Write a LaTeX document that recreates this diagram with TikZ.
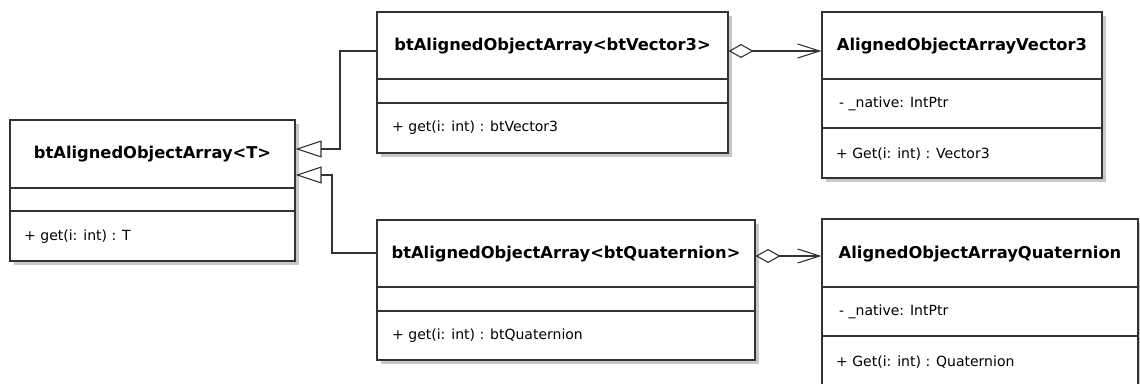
\documentclass[tikz,border=0pt]{standalone}
\usepackage{fontspec}
\setmainfont{DejaVu Sans}
\usetikzlibrary{arrows.meta}
\usetikzlibrary{shadows}
\tikzset{classbox/.style={draw=black!80, line width=1.1pt, fill=white, inner sep=0pt,
      drop shadow={shadow xshift=4pt, shadow yshift=-4pt, fill=black, opacity=0.22}}}
\tikzset{classname/.style={font=\fontsize{16.3}{18}\selectfont\bfseries, inner sep=0pt}}
\tikzset{member/.style={font=\fontsize{14}{16}\selectfont, anchor=west, inner sep=0pt}}
\tikzset{divider/.style={draw=black!80, line width=1.1pt}}
\tikzset{inherits/.style={draw=black!80, line width=1.1pt,
      -{Triangle[open, length=26pt, width=17pt]}}}
\tikzset{aggregates/.style={draw=black!80, line width=1.1pt,
      {Diamond[open, length=25pt, width=14pt]}-{Straight Barb[length=22pt, width=14pt]}}}

\begin{document}
\begin{tikzpicture}[x=1pt, y=-1pt]
		\clip (0,0) rectangle (1140,383);
		\node[classbox, minimum width=285pt, minimum height=141pt] (base) at (152.5,190.5) {};
		\node[classbox, minimum width=351pt, minimum height=141pt] (vec) at (552.5,82.5) {};
		\node[classbox, minimum width=378pt, minimum height=140pt] (quat) at (566,290) {};
		\node[classbox, minimum width=280pt, minimum height=166pt] (avec) at (962,95) {};
		\node[classbox, minimum width=316pt, minimum height=167pt] (aquat) at (980,302.5) {};
		\node[classname] (baseName) at (152.5,154) {btAlignedObjectArray<T>};
		\node[classname] (vecName) at (552.5,46) {btAlignedObjectArray<btVector3>};
		\node[classname] (quatName) at (566,254) {btAlignedObjectArray<btQuaternion>};
		\node[classname] (avecName) at (962,46) {AlignedObjectArrayVector3};
		\node[classname] (aquatName) at (980,254) {AlignedObjectArrayQuaternion};
		\draw[divider] (base.west |- 0,188) -- (base.east |- 0,188);
		\draw[divider] (base.west |- 0,211) -- (base.east |- 0,211);
		\draw[divider] (vec.west |- 0,79) -- (vec.east |- 0,79);
		\draw[divider] (vec.west |- 0,103) -- (vec.east |- 0,103);
		\draw[divider] (quat.west |- 0,287) -- (quat.east |- 0,287);
		\draw[divider] (quat.west |- 0,311) -- (quat.east |- 0,311);
		\draw[divider] (avec.west |- 0,79) -- (avec.east |- 0,79);
		\draw[divider] (avec.west |- 0,128) -- (avec.east |- 0,128);
		\draw[divider] (aquat.west |- 0,287) -- (aquat.east |- 0,287);
		\draw[divider] (aquat.west |- 0,336) -- (aquat.east |- 0,336);
		\node[member] (baseGet) at (24,237) {+ get(i: int) : T};
		\node[member] (vecGet) at (392,128) {+ get(i: int) : btVector3};
		\node[member] (quatGet) at (392,336) {+ get(i: int) : btQuaternion};
		\node[member] (avecNative) at (839,104) {- \_native: IntPtr};
		\node[member] (avecGet) at (836,154) {+ Get(i: int) : Vector3};
		\node[member] (aquatNative) at (839,312) {- \_native: IntPtr};
		\node[member] (aquatGet) at (836,362) {+ Get(i: int) : Quaternion};
		\draw[inherits] (vec.west |- 0,51) -| (340,149) -- (base.east |- 0,149);
		\draw[inherits] (quat.west |- 0,253) -| (332,175) -- (base.east |- 0,175);
		\draw[aggregates] (vec.east |- 0,51) -- (avec.west |- 0,51);
		\draw[aggregates] (quat.east |- 0,256) -- (aquat.west |- 0,256);
\end{tikzpicture}
\end{document}
